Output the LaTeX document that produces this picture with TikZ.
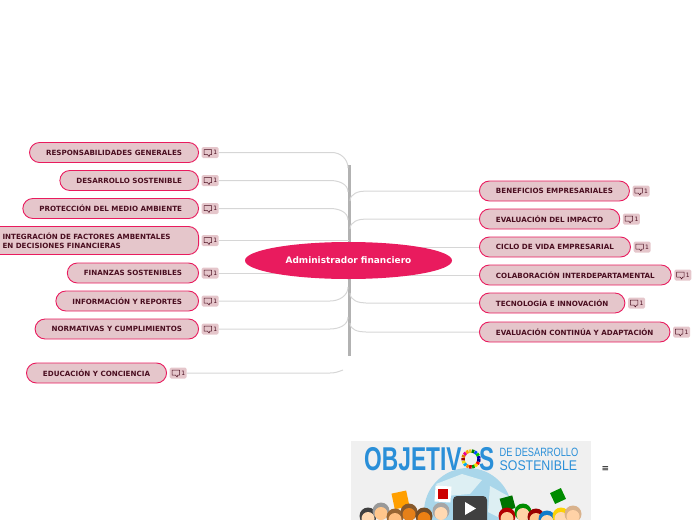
\documentclass[tikz,border=0pt]{standalone}
\usepackage{graphicx}
\usepackage{fontspec}
\setmainfont{DejaVu Sans}
\newfontfamily\thumbfont{Liberation Sans}
\usetikzlibrary{positioning,shapes.geometric}
\definecolor{rootpink}{HTML}{E91B5E}
\definecolor{topicfill}{HTML}{E5C6CB}
\definecolor{topictext}{HTML}{4A0E20}
\definecolor{branchgray}{HTML}{D6D6D6}
\definecolor{trunkgray}{HTML}{B2B2B2}
\definecolor{sdgblue}{HTML}{2A8FD8}
\definecolor{globeblue}{HTML}{A9D6EA}
\definecolor{landpale}{HTML}{DDEFF3}
\tikzset{
  topic/.style={draw=rootpink, fill=topicfill, text=topictext, line width=0.9pt,
    rounded corners=10pt, minimum height=20pt, inner xsep=16.5pt, inner ysep=2pt,
    font=\fontsize{7.15}{9.4}\selectfont\bfseries},
  badge/.style={fill=topicfill, text=topictext, rounded corners=1.5pt, minimum width=17pt,
    minimum height=11pt, inner sep=0pt, font=\fontsize{6}{6}\selectfont},
  branch/.style={draw=branchgray, line width=1pt},
  thumbtext/.style={text=sdgblue, anchor=west, inner sep=0pt},
}
\begin{document}
\begin{tikzpicture}[x=1pt, y=-1pt]
    \useasboundingbox (0,0) rectangle (697,520);
    \coordinate (TT) at (349,165);
    \coordinate (TB) at (349,356);
    \coordinate (RC) at (348.5,260.5);
    \draw[trunkgray, line width=3pt] (TT) -- (TB);

    \node[topic, anchor=east] (nL1) at (199,152.5) {RESPONSABILIDADES GENERALES};
    \node[topic, anchor=east] (nL2) at (199,180.5) {DESARROLLO SOSTENIBLE};
    \node[topic, anchor=east] (nL3) at (199,208.5) {PROTECCIÓN DEL MEDIO AMBIENTE};
    \node[topic, anchor=east, align=left, text width=179.5pt, minimum height=28pt] (nL4) at (199,240.5) {INTEGRACIÓN DE FACTORES AMBENTALES\\EN DECISIONES FINANCIERAS};
    \node[topic, anchor=east] (nL5) at (199,273) {FINANZAS SOSTENIBLES};
    \node[topic, anchor=east] (nL6) at (199,301) {INFORMACIÓN Y REPORTES};
    \node[topic, anchor=east] (nL7) at (199,329) {NORMATIVAS Y CUMPLIMIENTOS};
    \node[topic, anchor=east] (nL8) at (167,373) {EDUCACIÓN Y CONCIENCIA};
    \node[topic, anchor=west] (nR1) at (479,191) {BENEFICIOS EMPRESARIALES};
    \node[topic, anchor=west] (nR2) at (479,219) {EVALUACIÓN DEL IMPACTO};
    \node[topic, anchor=west] (nR3) at (479,247) {CICLO DE VIDA EMPRESARIAL};
    \node[topic, anchor=west] (nR4) at (479,275) {COLABORACIÓN INTERDEPARTAMENTAL};
    \node[topic, anchor=west] (nR5) at (479,303) {TECNOLOGÍA E INNOVACIÓN};
    \node[topic, anchor=west] (nR6) at (479,332) {EVALUACIÓN CONTINÚA Y ADAPTACIÓN};

    \foreach \i in {L1,L2,L3,L4,L5,L6,L7,L8,R1,R2,R3,R4,R5,R6} {
      \node[badge, right=2.5pt of n\i] (b\i) {\hspace*{10pt}1};
      \draw[topictext, line width=0.5pt, line join=round] ([xshift=2.5pt, yshift=-2pt]b\i.west)
        -- ++(0,-5) -- ++(7.5,0) -- ++(0,5) -- ++(-1.5,0) -- ++(-1,2) -- ++(-1.5,-2) -- cycle;
    }

    % branches on the left
    \foreach \i/\kx/\jy/\ang in {L1/332/168/90, L2/330/192/90, L3/330/220/90, L6/330/287/-90, L7/330/317/-90} {
      \coordinate (j\i) at (348,\jy);
      \coordinate (k\i) at (\kx,0 |- b\i.east);
      \draw[branch] (b\i.east) -- (k\i) to[out=0, in=\ang] (j\i);
    }
    % branches on the right
    \foreach \i/\jy/\ang in {R1/201/90, R2/229/90, R5/293/-90, R6/323/-90} {
      \coordinate (j\i) at (350,\jy);
      \coordinate (k\i) at (366,0 |- n\i.west);
      \draw[branch] (n\i.west) -- (k\i) to[out=180, in=\ang] (j\i);
    }
    \coordinate (jL8) at (343,370);
    \coordinate (kL8) at (330,0 |- bL8.east);
    \draw[branch] (bL8.east) -- (kL8) to[out=0, in=200] (jL8);
    \draw[branch] (bL4.east) -- (RC |- bL4.east);
    \draw[branch] (bL5.east) -- (RC |- bL5.east);
    \draw[branch] (nR3.west) -- (RC |- nR3.west);
    \draw[branch] (nR4.west) -- (RC |- nR4.west);

    \node[ellipse, fill=rootpink, text=white, minimum width=207pt, minimum height=37pt, inner sep=0pt,
      font=\fontsize{8.95}{10}\selectfont\bfseries] (root) at (RC) {Administrador financiero};

    % video thumbnail
    \begin{scope}
      \clip (351,441) rectangle (591,520);
      \fill[black!6] (351,441) rectangle (591,520);
      \fill[globeblue] (468,512) circle (44);
      \fill[landpale] (436,484) -- (462,474) -- (482,480) -- (470,494) -- (446,496) -- cycle;
      \fill[landpale] (490,486) -- (508,496) -- (504,520) -- (488,512) -- cycle;
      \node[thumbtext, font=\thumbfont\fontsize{33}{33}\selectfont\bfseries] (tObj) at (364,459.5) {\scalebox{0.69}[1]{OBJETIV}};
      \node[thumbtext, font=\thumbfont\fontsize{33}{33}\selectfont\bfseries] (tS) at (479,459.5) {\scalebox{0.69}[1]{S}};
      \node[thumbtext, font=\thumbfont\fontsize{12}{12}\selectfont] (tDe) at (499.5,452.5) {\scalebox{0.77}[1]{DE DESARROLLO}};
      \node[thumbtext, font=\thumbfont\fontsize{14}{14}\selectfont] (tSo) at (499.5,465.5) {\scalebox{0.88}[1]{SOSTENIBLE}};
      \foreach \c [count=\k] in {red,yellow!80!orange,green!60!black,red!80!black,orange,cyan,yellow!90!black,red!60!black,orange!90!black,magenta,orange!70!yellow,yellow!60!brown,green!50!black,blue!70!cyan,green!80!black,blue!70!black,blue!50!black} {
        \draw[\c, line width=3.4pt] (471,459) ++({\k*21.2}:8) arc ({\k*21.2}:{\k*21.2+19}:8);
      }
      \fill[orange!75!yellow, rotate around={12:(400,500)}] (393,492) rectangle (408,508);
      \fill[white, rotate around={-4:(443,494)}] (435,486) rectangle (451,502);
      \fill[red!80!black] (438,489) rectangle (448,499);
      \fill[green!45!black, rotate around={15:(507,503)}] (501,497) rectangle (514,510);
      \fill[green!55!black, rotate around={25:(558,496)}] (552,490) rectangle (564,502);
      \foreach \px/\py/\hr/\sk in {368/516/black!75/orange!30, 381/511/black!40/orange!45, 395/517/brown!80!black/orange!50, 409/512/brown!70!black/orange!60!brown, 424/516/brown!60!black/orange!70!brown, 441/511/black!35/orange!30, 463/517/black!85/brown!70, 507/516/red!70!black/orange!40, 523/512/green!55!black/orange!35, 536/517/red!60!black/orange!45, 547/519/cyan!60!blue/orange!30, 561/516/yellow!70!orange/orange!30, 573/514/brown!60/orange!35} {
        \fill[\hr] (\px,\py) circle (8.5);
        \fill[\sk] (\px,\py+2.5) circle (6.5);
      }
      \fill[black!75, rounded corners=4pt] (453,496) rectangle (487,524);
      \fill[white] (465,502) -- (465,515) -- (476,508.5) -- cycle;
    \end{scope}
    \node[inner sep=0pt, font=\fontsize{9}{9}\selectfont] (menu) at (605.5,469) {≡};
\end{tikzpicture}
\end{document}
